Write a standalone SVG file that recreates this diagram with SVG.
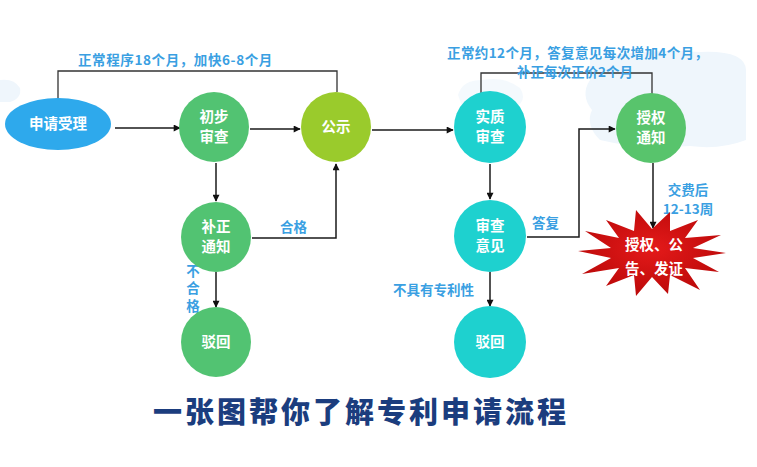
<svg xmlns="http://www.w3.org/2000/svg" width="757" height="467" viewBox="0 0 757 467">
<defs>
<style>
.lbl{font-family:"Noto Sans CJK SC","Noto Sans",sans-serif;font-weight:bold;fill:#3a9fe2;font-size:13.5px}
.nt{font-family:"Noto Sans CJK SC","Noto Sans",sans-serif;font-weight:bold;fill:#ffffff;font-size:14.5px;text-anchor:middle}
.ln{fill:none;stroke:#1a1a1a;stroke-width:1.5}
.br{fill:none;stroke:#333;stroke-width:1.3}
.cloud{fill:#eff6fc}
</style>
<marker id="ah" viewBox="0 0 10 10" refX="9" refY="5" markerWidth="9" markerHeight="7" orient="auto" markerUnits="userSpaceOnUse">
<path d="M0,0 L10,5 L0,10 Z" fill="#111"/>
</marker>
<radialGradient id="red" cx="50%" cy="45%" r="60%">
<stop offset="0" stop-color="#e41a1a"/>
<stop offset="1" stop-color="#b80808"/>
</radialGradient>
</defs>
<rect width="757" height="467" fill="#ffffff"/>
<g id="background">
<path class="cloud" d="M0,80 Q14,78 20,88 Q22,98 10,102 L0,102 Z"/>
<path class="cloud" d="M590,60 Q640,48 700,52 Q745,50 746,70 L746,140 Q720,150 690,146 Q640,150 600,140 Q585,125 592,110 Q580,95 590,80 Z"/>
<path class="cloud" d="M458,95 Q462,80 482,80 Q505,76 520,88 Q528,100 515,108 Q490,112 462,106 Z" opacity="0.7"/>
</g>
<g id="connectors">
<polyline class="br" points="58,98 58,71 337,71 337,92"/>
<polyline class="br" points="481,95 481,73 652,73 652,95"/>
<line class="ln" x1="115" y1="128" x2="180" y2="128" marker-end="url(#ah)"/>
<line class="ln" x1="250" y1="129" x2="300" y2="129" marker-end="url(#ah)"/>
<line class="ln" x1="372" y1="130" x2="453" y2="130" marker-end="url(#ah)"/>
<line class="ln" x1="216" y1="163" x2="216" y2="201" marker-end="url(#ah)"/>
<line class="ln" x1="216" y1="272" x2="216" y2="307" marker-end="url(#ah)"/>
<polyline class="ln" points="252,238 336,238 336,164" marker-end="url(#ah)"/>
<line class="ln" x1="490" y1="164" x2="490" y2="199" marker-end="url(#ah)"/>
<line class="ln" x1="490" y1="272" x2="490" y2="306" marker-end="url(#ah)"/>
<polyline class="ln" points="527,237 579,237 579,129 615,129" marker-end="url(#ah)"/>
<line class="ln" x1="653" y1="163" x2="653" y2="228" stroke-width="2.5" marker-end="url(#ah)"/>
</g>
<g id="labels">
<text class="lbl" x="78" y="65" letter-spacing="0.6">正常程序18个月，加快6-8个月</text>
<text class="lbl" x="447" y="58" font-size="14" letter-spacing="0.4">正常约12个月，答复意见每次增加4个月，</text>
<text class="lbl" x="517" y="77" font-size="14">补正每次正价2个月</text>
<text class="lbl" x="280" y="232">合格</text>
<text class="lbl" x="193" y="264" font-size="12" writing-mode="tb" letter-spacing="4">不合格</text>
<text class="lbl" x="532" y="228">答复</text>
<text class="lbl" x="393" y="295">不具有专利性</text>
<text class="lbl" x="688" y="195" font-size="12.5" text-anchor="middle">交费后</text>
<text class="lbl" x="688" y="214" font-size="12.5" text-anchor="middle">12-13周</text>
</g>
<g id="n-apply">
<ellipse cx="58" cy="124" rx="53" ry="26" fill="#2ea9ec"/>
<text class="nt" x="58" y="129">申请受理</text>
</g>
<g id="n-prelim">
<circle cx="214" cy="127" r="35" fill="#52c372"/>
<text class="nt" x="214" y="122">初步</text>
<text class="nt" x="214" y="142">审查</text>
</g>
<g id="n-publish">
<circle cx="336" cy="127" r="35" fill="#9acb2c"/>
<text class="nt" x="336" y="132">公示</text>
</g>
<g id="n-substantive">
<circle cx="490" cy="127" r="36" fill="#1ed1cf"/>
<text class="nt" x="490" y="122">实质</text>
<text class="nt" x="490" y="142">审查</text>
</g>
<g id="n-grant-notice">
<circle cx="651" cy="128" r="35" fill="#58c46c"/>
<text class="nt" x="651" y="123">授权</text>
<text class="nt" x="651" y="143">通知</text>
</g>
<g id="n-correction">
<circle cx="216" cy="237" r="35" fill="#52c372"/>
<text class="nt" x="216" y="232">补正</text>
<text class="nt" x="216" y="252">通知</text>
</g>
<g id="n-reject1">
<circle cx="216" cy="342" r="35" fill="#52c372"/>
<text class="nt" x="216" y="347">驳回</text>
</g>
<g id="n-opinion">
<circle cx="490" cy="236" r="36" fill="#1ed1cf"/>
<text class="nt" x="490" y="231">审查</text>
<text class="nt" x="490" y="251">意见</text>
</g>
<g id="n-reject2">
<circle cx="490" cy="342" r="36" fill="#1ed1cf"/>
<text class="nt" x="490" y="347">驳回</text>
</g>
<g id="n-grant">
<polygon fill="url(#red)" points="726,253 693,258 719,272 685,268 700,290 670,275 668,294 652,277 636,296 634,275 606,286 619,268 582,274 611,258 578,251 611,248 585,231 619,238 606,220 634,231 636,210 652,229 670,212 670,231 698,220 685,238 721,235 693,248"/>
<text class="nt" x="654" y="250" font-size="15">授权、公</text>
<text class="nt" x="654" y="274" font-size="15">告、发证</text>
</g>
<g id="title">
<text x="361" y="423" text-anchor="middle" font-family="'Noto Sans CJK SC','Noto Sans',sans-serif" font-weight="900" font-size="29" letter-spacing="3" fill="#1b3d7e">一张图帮你了解专利申请流程</text>
</g>
</svg>
